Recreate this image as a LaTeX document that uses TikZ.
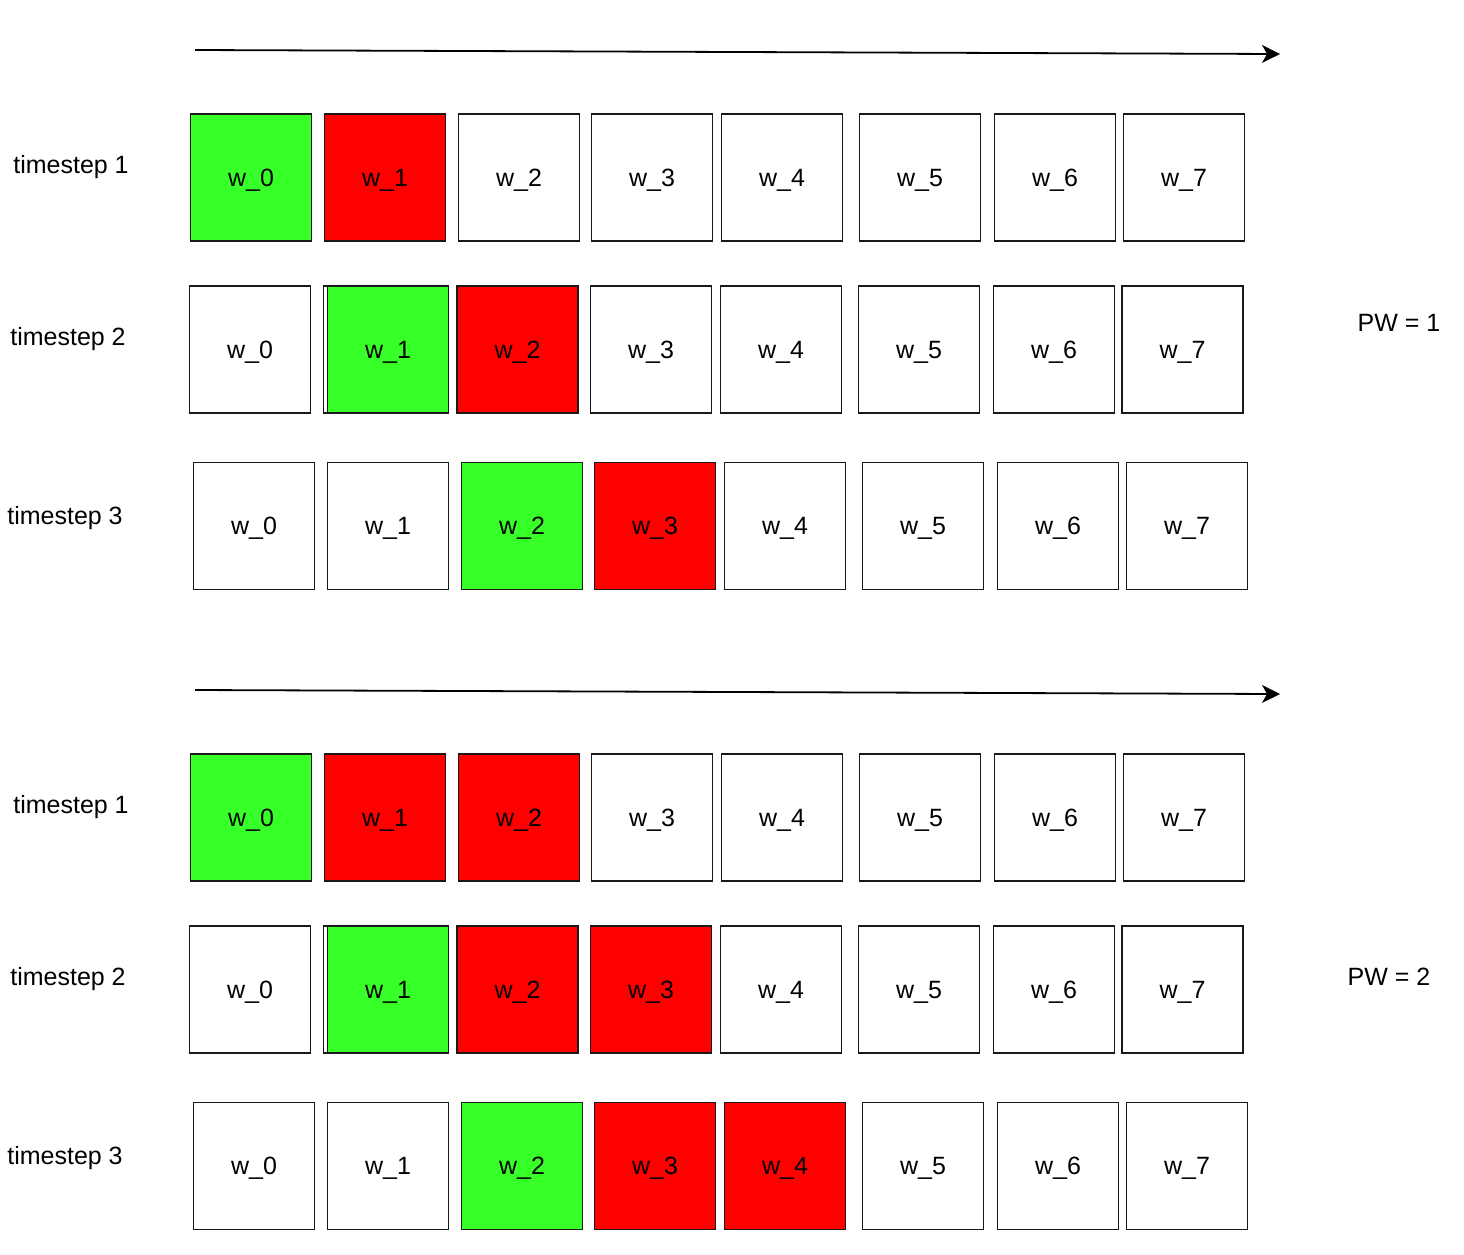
\documentclass[tikz,border=0pt]{standalone}
\usepackage{fontspec}
\setmainfont{Liberation Sans}
\usetikzlibrary{arrows.meta,positioning}

\begin{document}
\begin{tikzpicture}[x=1pt,y=-1pt,>={Stealth[length=18pt,width=18pt,inset=5pt]},
  word/.style={draw=black!90,line width=1.9pt,minimum width=121pt,minimum height=127pt,inner sep=0pt,fill=white,text height=17.5pt,text depth=0pt,font=\fontsize{25}{30}\selectfont},
  cur/.style={word,fill=curgreen},
  pad/.style={word,fill=red},
  lbl/.style={font=\fontsize{25}{30}\selectfont,inner sep=0pt,text height=17.5pt,text depth=0pt}]
\definecolor{curgreen}{RGB}{55,255,40}
\useasboundingbox (0,0) rectangle (1464,1254);

% PW = 1
\draw[->,line width=1.8pt] (195,50) coordinate (s1) -- (1280,54) coordinate (e1);

\node[lbl] (t11) at (71,165) {timestep 1};
\node[cur] (a0) at (251,177.5) {w\_0};
\node[pad] (a1) at (385,177.5) {w\_1};
\node[word] (a2) at (519,177.5) {w\_2};
\node[word] (a3) at (652,177.5) {w\_3};
\node[word] (a4) at (782,177.5) {w\_4};
\node[word] (a5) at (920,177.5) {w\_5};
\node[word] (a6) at (1055,177.5) {w\_6};
\node[word] (a7) at (1184,177.5) {w\_7};

\node[lbl] (t12) at (68,337) {timestep 2};
\node[word] (b0) at (250,349.5) {w\_0};
\node[word] (b1x) at (384,349.5) {};
\node[cur] (b1) at (388,349.5) {w\_1};
\node[pad] (b2) at (517.5,349.5) {w\_2};
\node[word] (b3) at (651,349.5) {w\_3};
\node[word] (b4) at (781,349.5) {w\_4};
\node[word] (b5) at (919,349.5) {w\_5};
\node[word] (b6) at (1054,349.5) {w\_6};
\node[word] (b7) at (1182.5,349.5) {w\_7};

\node[lbl] (t13) at (65,516) {timestep 3};
\node[word] (c0) at (254,526) {w\_0};
\node[word] (c1) at (388,526) {w\_1};
\node[cur] (c2) at (522,526) {w\_2};
\node[pad] (c3) at (655,526) {w\_3};
\node[word] (c4) at (785,526) {w\_4};
\node[word] (c5) at (923,526) {w\_5};
\node[word] (c6) at (1058,526) {w\_6};
\node[word] (c7) at (1187,526) {w\_7};

\node[lbl] (pw1) at (1399,323) {PW = 1};

% PW = 2
\draw[->,line width=1.8pt] (195,690) coordinate (s2) -- (1280,694) coordinate (e2);

\node[lbl] (t21) at (71,805) {timestep 1};
\node[cur] (d0) at (251,817.5) {w\_0};
\node[pad] (d1) at (385,817.5) {w\_1};
\node[pad] (d2) at (519,817.5) {w\_2};
\node[word] (d3) at (652,817.5) {w\_3};
\node[word] (d4) at (782,817.5) {w\_4};
\node[word] (d5) at (920,817.5) {w\_5};
\node[word] (d6) at (1055,817.5) {w\_6};
\node[word] (d7) at (1184,817.5) {w\_7};

\node[lbl] (t22) at (68,977) {timestep 2};
\node[word] (f0) at (250,989.5) {w\_0};
\node[word] (f1x) at (384,989.5) {};
\node[cur] (f1) at (388,989.5) {w\_1};
\node[pad] (f2) at (517.5,989.5) {w\_2};
\node[pad] (f3) at (651,989.5) {w\_3};
\node[word] (f4) at (781,989.5) {w\_4};
\node[word] (f5) at (919,989.5) {w\_5};
\node[word] (f6) at (1054,989.5) {w\_6};
\node[word] (f7) at (1182.5,989.5) {w\_7};

\node[lbl] (t23) at (65,1156) {timestep 3};
\node[word] (g0) at (254,1166) {w\_0};
\node[word] (g1) at (388,1166) {w\_1};
\node[cur] (g2) at (522,1166) {w\_2};
\node[pad] (g3) at (655,1166) {w\_3};
\node[pad] (g4) at (785,1166) {w\_4};
\node[word] (g5) at (923,1166) {w\_5};
\node[word] (g6) at (1058,1166) {w\_6};
\node[word] (g7) at (1187,1166) {w\_7};

\node[lbl] (pw2) at (1389,977) {PW = 2};

\end{tikzpicture}
\end{document}
